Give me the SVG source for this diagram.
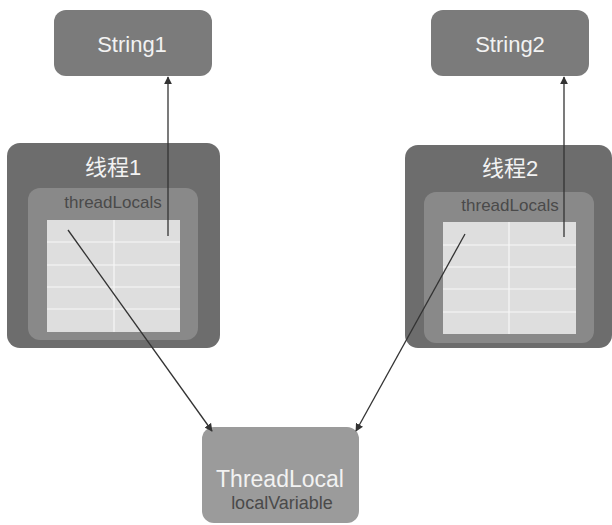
<svg xmlns="http://www.w3.org/2000/svg" width="612" height="525" viewBox="0 0 612 525">
<defs>
<style>
.str{fill:#7b7b7b}
.outer{fill:#6d6d6d}
.inner{fill:#898989}
.tbl{fill:#dedede}
.grid{stroke:#f7f7f7;stroke-width:1.2;fill:none}
.tl{fill:#9b9b9b}
.wt{fill:#f2f2f2;font-family:"Liberation Sans","Noto Sans CJK SC",sans-serif;text-anchor:middle}
.dt{fill:#4a4a4a;font-family:"Liberation Sans",sans-serif;text-anchor:middle}
.conn{stroke:#333;stroke-width:1.3;fill:none;marker-end:url(#ah)}
</style>
<marker id="ah" viewBox="0 0 10 10" refX="9" refY="5" markerWidth="8" markerHeight="8" markerUnits="userSpaceOnUse" orient="auto">
<path d="M0,0 L10,5 L0,10 z" fill="#333"/>
</marker>
</defs>
<rect width="612" height="525" fill="#fff"/>
<g id="string1">
<rect class="str" x="54" y="10" width="158" height="66" rx="12"/>
<text class="wt" x="132" y="52" font-size="22">String1</text>
</g>
<g id="string2">
<rect class="str" x="431" y="10" width="158" height="66" rx="12"/>
<text class="wt" x="510" y="52" font-size="22">String2</text>
</g>
<g id="thread1">
<rect class="outer" x="7" y="143" width="213" height="205" rx="13"/>
<text class="wt" x="113" y="175" font-size="22">线程1</text>
<rect class="inner" x="28" y="188" width="170" height="152" rx="12"/>
<text class="dt" x="113" y="208" font-size="17">threadLocals</text>
<rect class="tbl" x="47" y="220" width="133" height="112"/>
<path class="grid" d="M114,220 V332 M47,242 H180 M47,265 H180 M47,287 H180 M47,309 H180"/>
</g>
<g id="thread2">
<rect class="outer" x="405" y="145" width="207" height="203" rx="13"/>
<text class="wt" x="510" y="176" font-size="22">线程2</text>
<rect class="inner" x="424" y="192" width="170" height="151" rx="12"/>
<text class="dt" x="510" y="211" font-size="17">threadLocals</text>
<rect class="tbl" x="443" y="222" width="133" height="112"/>
<path class="grid" d="M509,222 V334 M443,245 H576 M443,267 H576 M443,289 H576 M443,312 H576"/>
</g>
<g id="threadlocal">
<rect class="tl" x="202" y="427" width="157" height="96" rx="12"/>
<text class="wt" x="280" y="487" font-size="23">ThreadLocal</text>
<text class="dt" x="282" y="509" font-size="18">localVariable</text>
</g>
<g id="connectors">
<line class="conn" x1="168" y1="236" x2="168" y2="77"/>
<line class="conn" x1="564" y1="237" x2="564" y2="77"/>
<line class="conn" x1="68" y1="230" x2="212" y2="431"/>
<line class="conn" x1="465" y1="234" x2="356" y2="431"/>
</g>
</svg>
